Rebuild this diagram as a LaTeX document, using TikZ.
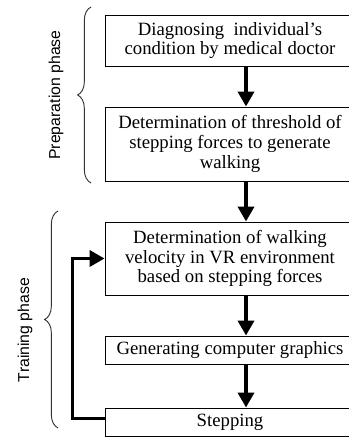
\documentclass[tikz,border=0pt]{standalone}
\usepackage{fontspec}
\setmainfont{Liberation Serif}
\setsansfont{Liberation Sans}
\usetikzlibrary{arrows.meta,positioning,calc,decorations.pathreplacing}

\begin{document}
\begin{tikzpicture}[
    box/.style={draw, line width=0.8pt, minimum width=7.5cm, align=center, inner sep=1pt,
        font=\fontsize{16}{17}\selectfont},
    arr/.style={-{Triangle[length=0.45cm, width=0.48cm]}, line width=0.11cm},
    brc/.style={decorate, decoration={brace, amplitude=0.4cm}, draw=black!80, line width=0.8pt},
    phase/.style={rotate=90, font=\sffamily\fontsize{13.5}{15}\selectfont}
]
\useasboundingbox (0,0) rectangle (10.44,13.11);

\node[box, minimum height=1.53cm] (diag) at (6.9,11.895) {Diagnosing~ individual’s\\condition by medical doctor};
\node[box, minimum height=2.22cm] (thr) at (6.9,8.79) {Determination of threshold of\\stepping forces to generate\\walking};
\node[box, minimum height=2.19cm] (vel) at (6.9,5.355) {Determination of walking\\velocity in VR environment\\based on stepping forces};
\node[box, minimum height=0.84cm] (cg) at (6.9,2.61) {Generating computer graphics};
\node[box, minimum height=0.84cm] (step) at (6.9,0.45) {Stepping};

% phases
\draw[brc] (2.73,7.62) -- (2.73,12.9);
\draw[brc] (1.74,0.27) -- (1.74,6.78);
\node[phase] (prep) at (1.68,10.26) {Preparation phase};
\node[phase] (train) at (0.75,3.21) {Training phase};

\draw[arr] ([xshift=0.48cm]diag.south) -- ([xshift=0.48cm]thr.north);
\draw[arr] ([xshift=0.48cm]thr.south) -- ([xshift=0.48cm]vel.north);
\draw[arr] ([xshift=0.48cm]vel.south) -- ([xshift=0.48cm]cg.north);
\draw[arr] ([xshift=0.48cm]cg.south) -- ([xshift=0.48cm]step.north);
\draw[arr] ([yshift=0.1cm]step.west) -- ++(-0.96,0) |- (vel.west);
\end{tikzpicture}
\end{document}
